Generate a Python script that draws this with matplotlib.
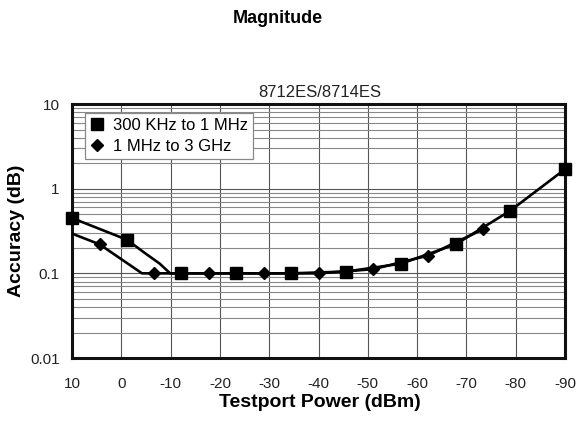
import numpy as np
import matplotlib
matplotlib.use("Agg")
import matplotlib.pyplot as plt

plt.rcParams['font.family'] = ['Liberation Sans', 'DejaVu Sans']

# marker positions (dBm, dB)
sq_x = [10, -1.1, -12.2, -23.3, -34.4, -45.6, -56.7, -67.8, -78.9, -90]
sq_y = [0.45, 0.25, 0.10, 0.10, 0.10, 0.105, 0.13, 0.22, 0.55, 1.7]
dia_x = [4.4, -6.7, -17.8, -28.9, -40.0, -51.1, -62.2, -73.3]
dia_y = [0.22, 0.10, 0.10, 0.10, 0.10, 0.112, 0.162, 0.33]

# extra bends of the curves that have no marker
sq_knee_x = [-5.0, -7.8, -9.9]
sq_knee_y = [0.17, 0.13, 0.10]
dia_knee_x = [10, -4.2]
dia_knee_y = [0.295, 0.10]

x_ticks = [10, 0, -10, -20, -30, -40, -50, -60, -70, -80, -90]
y_ticks = [0.01, 0.1, 1, 10]
y_labels = ['0.01', '0.1', '1', '10']
series_names = ['300 KHz to 1 MHz', '1 MHz to 3 GHz']

fig = plt.figure(figsize=(5.78, 4.26), dpi=100)
ax = fig.add_axes([0.1246, 0.1596, 0.853, 0.5962])

# curves
hx = np.array(sq_x + sq_knee_x)
hy = np.array(sq_y + sq_knee_y)
o = np.argsort(-hx)
ax.plot(hx[o], hy[o], color='black', lw=1.9, zorder=3)
lx = np.array(dia_x + dia_knee_x)
ly = np.array(dia_y + dia_knee_y)
o = np.argsort(-lx)
ax.plot(lx[o], ly[o], color='black', lw=1.9, zorder=3)

# markers
ax.plot(sq_x, sq_y, ls='none', marker='s', ms=8, color='black',
        label=series_names[0], zorder=4, clip_on=False)
ax.plot(dia_x, dia_y, ls='none', marker='D', ms=6, color='black',
        label=series_names[1], zorder=4, clip_on=False)

ax.set_yscale('log')
ax.set_ylim(0.01, 10)
ax.set_xlim(10, -90)
ax.set_xticks(x_ticks)
ax.set_xticklabels([str(t) for t in x_ticks])
ax.set_yticks(y_ticks)
ax.set_yticklabels(y_labels)
ax.tick_params(axis='both', which='both', length=0, labelsize=11, colors='#222222')
ax.tick_params(axis='x', pad=14)
ax.tick_params(axis='y', pad=9)

ax.grid(True, axis='x', color='#555555', lw=0.8)
ax.grid(True, axis='y', which='major', color='#555555', lw=0.8)
ax.grid(True, axis='y', which='minor', color='#888888', lw=0.8)
ax.set_axisbelow(True)
for s in ax.spines.values():
    s.set_linewidth(2.2)
    s.set_color('#111111')

ax.set_xlabel('Testport Power (dBm)', fontsize=14, fontweight='bold', va='center')
ax.xaxis.set_label_coords(0.503, -0.177)
ax.set_ylabel('Accuracy (dB)', fontsize=14, fontweight='bold', va='center')
ax.yaxis.set_label_coords(-0.1136, 0.5)

fig.text(0.5536, 0.784, '8712ES/8714ES', fontsize=12, ha='center', va='center', color='#222222')
fig.text(0.481, 0.9577, 'Magnitude', fontsize=13, fontweight='bold', ha='center', va='center')

leg = ax.legend(loc='upper left', bbox_to_anchor=(0.026, 0.965), borderaxespad=0,
                fontsize=12, handlelength=0.8, handletextpad=0.6, labelspacing=0.35,
                borderpad=0.3, fancybox=False, framealpha=1, edgecolor='#888888')
leg.get_frame().set_linewidth(0.9)

fig.savefig('out.png', dpi=100)
